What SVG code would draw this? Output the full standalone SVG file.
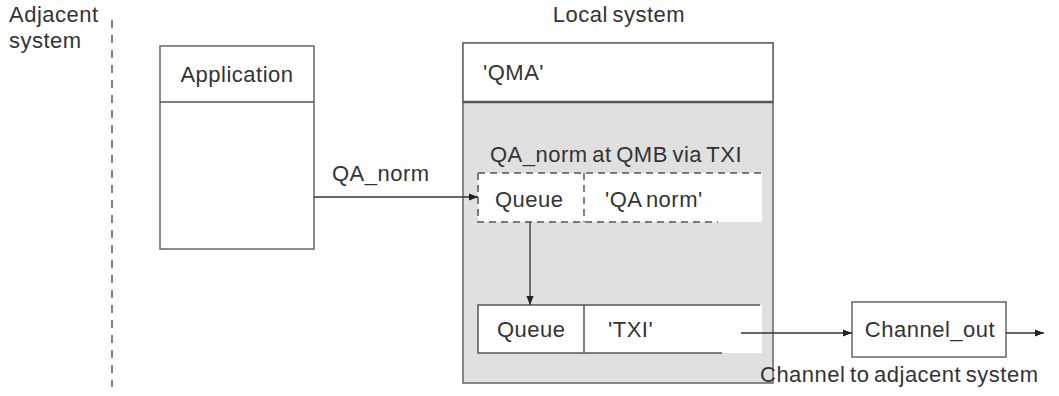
<svg xmlns="http://www.w3.org/2000/svg" width="1059" height="396" viewBox="0 0 1059 396">
<defs>
<marker id="ah" viewBox="0 0 10 10" refX="10" refY="5" markerWidth="9" markerHeight="9" markerUnits="userSpaceOnUse" orient="auto">
<path d="M0,1 L10,5 L0,9 z" fill="#222"/>
</marker>
</defs>
<style>
text{font-family:"Liberation Sans",Arial,sans-serif;font-size:22px;letter-spacing:0.5px;word-spacing:-2px;fill:#333}
.box{fill:#fff;stroke:#666;stroke-width:1.5}
.ln{stroke:#555;stroke-width:1.5;fill:none}
.dash{stroke:#555;stroke-width:1.5;fill:none;stroke-dasharray:7,5}
.conn{stroke:#333;stroke-width:1.3;fill:none;marker-end:url(#ah)}
</style>
<rect width="1059" height="396" fill="#fff"/>
<g id="labels">
<text x="9" y="22">Adjacent</text>
<text x="9" y="48">system</text>
<text x="619" y="22" text-anchor="middle">Local system</text>
<line x1="112" y1="20" x2="112" y2="387" stroke="#555" stroke-width="1.5" stroke-dasharray="8,7"/>
</g>
<g id="application">
<rect class="box" x="160" y="46" width="154" height="203"/>
<line class="ln" x1="160" y1="102" x2="314" y2="102"/>
<text x="237" y="82" text-anchor="middle">Application</text>
</g>
<g id="local-system">
<rect x="463" y="43" width="310" height="340" fill="#e0e0e0" stroke="#666" stroke-width="1.5"/>
<rect x="463" y="43" width="310" height="59" fill="#fff" stroke="#666" stroke-width="1.5"/>
<line x1="463" y1="102" x2="773" y2="102" stroke="#555" stroke-width="2.5"/>
<text x="483" y="80">'QMA'</text>
<text x="490" y="162">QA_norm at QMB  via TXI</text>
</g>
<g id="remote-queue-def">
<rect x="478" y="173" width="284" height="49" fill="#fff"/>
<path class="dash" d="M478,173 H761 M478,173 V222 H718 M584,173 V222"/>
<text x="495" y="207">Queue</text>
<text x="605" y="207">'QA norm'</text>
</g>
<g id="transmission-queue">
<rect x="478" y="305" width="284" height="48" fill="#fff"/>
<path class="ln" d="M760,305 H478 V353 H722 M584,305 V353"/>
<text x="497" y="337">Queue</text>
<text x="608" y="337">'TXI'</text>
</g>
<g id="channel-out">
<rect class="box" x="852" y="302" width="154" height="55"/>
<text x="930" y="337" text-anchor="middle">Channel_out</text>
<text x="760" y="382">Channel to adjacent system</text>
</g>
<g id="connectors">
<line class="conn" x1="314" y1="197" x2="478" y2="197"/>
<text x="332" y="181">QA_norm</text>
<line class="conn" x1="530" y1="222" x2="530" y2="305"/>
<line class="conn" x1="741" y1="333" x2="852" y2="333"/>
<line class="conn" x1="1006" y1="333" x2="1044" y2="333"/>
</g>
</svg>
